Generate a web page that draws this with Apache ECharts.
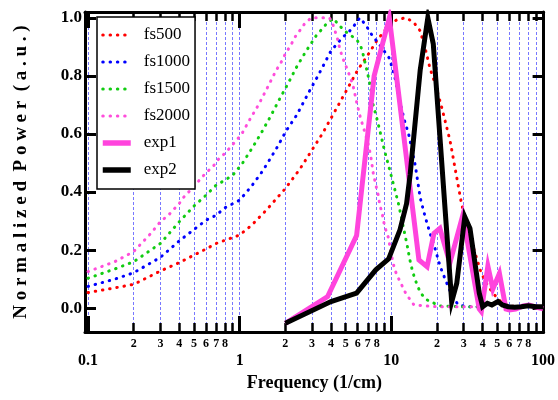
<!DOCTYPE html>
<html>
<head>
<meta charset="utf-8">
<script src="https://cdn.jsdelivr.net/npm/echarts@6/dist/echarts.min.js"></script>
<style>
  html, body { margin: 0; padding: 0; background: #fff; }
  #chart { width: 558px; height: 400px; }
</style>
</head>
<body>
<div id="chart"></div>
<script>
// ---- data: frequency (1/cm) and normalized power ----
const fs500Freq  = [0.1,0.15,0.2,0.3,0.4,0.5,0.6,0.7,0.8,1.0,1.2,1.5,2.0,2.5,3.0,3.5,4.0,5.0,6.0,7.0,8.0,9.0,10,11,12.5,14,15.5,17,18,19.5,21.6,24.4,26.7,29,32,35.4,39.2,43,46.7,54,60,70];
const fs500Power = [0.054,0.07,0.082,0.128,0.157,0.183,0.204,0.223,0.234,0.252,0.286,0.338,0.412,0.48,0.545,0.6,0.654,0.745,0.82,0.872,0.92,0.955,0.981,0.995,1.0,0.985,0.955,0.88,0.825,0.771,0.687,0.576,0.464,0.361,0.27,0.195,0.12,0.08,0.052,0.017,0.008,0.005];

const fs1000Freq  = [0.1,0.15,0.2,0.3,0.4,0.5,0.6,0.7,0.8,1.0,1.2,1.4,1.52,1.77,2.02,2.37,2.9,3.28,3.97,4.4,4.78,5.3,5.7,6.2,6.8,7.4,8.1,8.9,9.7,10.5,11.5,12.3,13.0,14.4,15.5,16.7,18,19.4,21,23,25,27.6,32,40];
const fs1000Power = [0.075,0.1,0.122,0.175,0.232,0.271,0.303,0.32,0.346,0.372,0.421,0.469,0.498,0.555,0.61,0.664,0.75,0.80,0.883,0.912,0.933,0.954,0.974,1.0,0.974,0.943,0.916,0.888,0.861,0.80,0.70,0.64,0.60,0.49,0.38,0.315,0.258,0.206,0.143,0.091,0.046,0.011,0.005,0.005];

const fs1500Freq  = [0.1,0.15,0.2,0.3,0.4,0.5,0.6,0.7,0.8,0.9,1.04,1.22,1.41,1.61,1.84,2.09,2.37,2.73,3.2,3.5,3.81,4.15,4.55,4.95,5.42,5.93,6.3,6.5,6.7,6.9,7.1,7.3,7.5,8.0,8.5,9.0,9.6,10.5,11.2,12.1,12.7,13.2,13.7,14.2,14.8,15.6,17,18,21,30,40];
const fs1500Power = [0.103,0.135,0.16,0.223,0.298,0.352,0.389,0.424,0.441,0.458,0.498,0.555,0.61,0.664,0.722,0.775,0.83,0.884,0.939,0.962,0.985,0.997,0.973,0.954,0.939,0.924,0.90,0.876,0.847,0.819,0.79,0.76,0.71,0.656,0.60,0.544,0.49,0.412,0.355,0.27,0.218,0.17,0.134,0.105,0.08,0.052,0.03,0.023,0.008,0.005,0.005];

const fs2000Freq  = [0.1,0.15,0.2,0.26,0.3,0.34,0.4,0.43,0.51,0.56,0.61,0.676,0.73,0.806,0.88,0.96,1.04,1.11,1.19,1.28,1.37,1.46,1.55,1.65,1.75,1.89,2.0,2.17,2.31,2.49,2.69,2.97,3.28,3.6,3.91,4.1,4.4,4.6,4.85,5.1,5.4,5.63,5.9,6.24,6.57,6.98,7.3,7.6,7.9,8.2,8.4,8.7,8.9,9.2,9.6,9.9,10.5,11,11.7,12.5,14.1,20,38];
const fs2000Power = [0.126,0.16,0.195,0.258,0.298,0.321,0.361,0.384,0.424,0.45,0.469,0.492,0.515,0.535,0.558,0.58,0.603,0.63,0.658,0.685,0.713,0.741,0.767,0.796,0.821,0.85,0.876,0.905,0.933,0.956,0.981,1.0,1.0,1.0,1.0,0.98,0.931,0.888,0.853,0.825,0.79,0.759,0.71,0.658,0.619,0.573,0.527,0.464,0.424,0.389,0.355,0.326,0.298,0.269,0.24,0.195,0.134,0.109,0.08,0.049,0.011,0.005,0.005];

const exp1Freq  = [2.0,3.8,5.9,7.7,9.7,15.2,17.2,19.1,20.9,24.3,29.6,38,39.2,43.3,46.7,51.6,57,60,66,74,81,90,100];
const exp1Power = [-0.052,0.04,0.25,0.80,1.0,0.166,0.143,0.258,0.275,0.155,0.32,-0.003,-0.012,0.145,0.066,0.12,-0.003,-0.006,-0.003,0.008,0.011,0.004,-0.002];

const exp2Freq  = [2.0,4.0,5.9,7.9,9.6,11.4,12.6,13.3,15.5,17.4,18.9,25,27,30.5,33,38,40,43,46,50.5,54,59,65,72,80,90,100];
const exp2Power = [-0.052,0.023,0.052,0.132,0.17,0.27,0.36,0.46,0.82,1.0,0.91,0.022,0.086,0.315,0.275,0.052,0.005,0.017,0.011,0.023,0.011,0.005,0.003,0.005,0.008,0.005,0.005];

// axis ticks
const majorTicks = [0.1, 1, 10, 100];
const minorDigits = [2, 3, 4, 5, 6, 7, 8, 9];
const labeledDigits = [2, 3, 4, 5, 6, 7, 8];
const powerTicks = [0.0, 0.2, 0.4, 0.6, 0.8, 1.0];

// ---- build ----
const lg = Math.log10;
const decades = [0.1, 1, 10];
const majorPos = majorTicks.map(lg);
const allPos = majorPos.concat(...decades.map(d => minorDigits.map(k => lg(k * d))));
const minorLabelPos = [].concat(...decades.map(d => labeledDigits.map(k => lg(k * d))));

const X_MIN = -1.02, X_MAX = 2.004;
const Y_MIN = -0.082, Y_MAX = 1.02;
const FONT = 'Liberation Serif';
const DOT = [0.5, 6.8];

function pairs(fr, pw) { return fr.map((f, i) => [lg(f), pw[i]]); }

function dotted(name, color, fr, pw) {
  return {
    name, type: 'line', data: pairs(fr, pw), symbol: 'none', showSymbol: false, color,
    lineStyle: { color, width: 3, type: DOT, cap: 'round' },
    silent: true
  };
}
function solid(name, color, fr, pw) {
  return {
    name, type: 'line', data: pairs(fr, pw), symbol: 'none', showSymbol: false, color,
    lineStyle: { color, width: 5, join: 'miter' },
    silent: true
  };
}

function majorLabel(v) {
  const f = Math.pow(10, v);
  return f < 1 ? f.toFixed(1) : String(Math.round(f));
}
function minorLabel(v) {
  const e = Math.floor(v + 1e-9);
  return String(Math.round(Math.pow(10, v - e)));
}

const black = '#000';
const xBase = (pos) => ({
  type: 'value', min: X_MIN, max: X_MAX, position: pos,
  axisLine: { show: false, onZero: false },
  splitLine: { show: false }
});

const dottedKey = (name) => ({ name, lineStyle: { width: 3, type: DOT, cap: 'round' } });
const solidKey = (name) => ({ name, lineStyle: { width: 5.5, type: 'solid', cap: 'butt' } });

const option = {
  animation: false,
  grid: { left: 85, top: 12, width: 463, height: 320, containLabel: false },
  legend: {
    orient: 'vertical', left: 97, top: 17,
    backgroundColor: '#fff', borderColor: black, borderWidth: 1.5,
    padding: [9, 5, 10, 3], itemWidth: 28, itemHeight: 14, itemGap: 9,
    selectedMode: false,
    itemStyle: { opacity: 0 },
    textStyle: { fontFamily: FONT, fontSize: 17, color: black, lineHeight: 18, padding: [0, 0, 0, 8] },
    data: [dottedKey('fs500'), dottedKey('fs1000'), dottedKey('fs1500'), dottedKey('fs2000'), solidKey('exp1'), solidKey('exp2')]
  },
  xAxis: [
    Object.assign(xBase('bottom'), {
      axisLine: { show: true, onZero: false, lineStyle: { color: black, width: 3 } },
      axisTick: { show: true, inside: true, length: 16, lineStyle: { color: black, width: 3 }, customValues: majorPos },
      axisLabel: { customValues: majorPos, formatter: majorLabel, margin: 21, fontFamily: FONT, fontSize: 16, fontWeight: 'bold', color: black },
      name: 'Frequency (1/cm)', nameLocation: 'middle', nameGap: 41,
      nameTextStyle: { fontFamily: FONT, fontSize: 18, fontWeight: 'bold', color: black }
    }),
    Object.assign(xBase('bottom'), {
      axisTick: { show: true, inside: true, length: 9, lineStyle: { color: black, width: 2.5 }, customValues: allPos },
      axisLabel: { customValues: minorLabelPos, formatter: minorLabel, margin: 6, fontFamily: FONT, fontSize: 12, fontWeight: 'bold', color: black },
      splitLine: { show: true, lineStyle: { color: '#7878ff', width: 1, type: [3, 2] } }
    }),
    Object.assign(xBase('top'), {
      axisLine: { show: true, onZero: false, lineStyle: { color: black, width: 3 } },
      axisTick: { show: true, inside: true, length: 16, lineStyle: { color: black, width: 3 }, customValues: majorPos },
      axisLabel: { show: false }
    }),
    Object.assign(xBase('top'), {
      axisTick: { show: true, inside: true, length: 9, lineStyle: { color: black, width: 2.5 }, customValues: allPos },
      axisLabel: { show: false }
    })
  ],
  yAxis: [
    {
      type: 'value', min: Y_MIN, max: Y_MAX, position: 'left',
      axisLine: { show: true, onZero: false, lineStyle: { color: black, width: 3 } },
      axisTick: { show: true, inside: true, length: 11, lineStyle: { color: black, width: 3 }, customValues: powerTicks },
      axisLabel: { customValues: powerTicks, formatter: v => v.toFixed(1), margin: 3, fontFamily: FONT, fontSize: 17, fontWeight: 'bold', color: black },
      splitLine: { show: false },
      name: 'N o r m a l i z e d  P o w e r  ( a . u . )', nameLocation: 'middle', nameGap: 54,
      nameTextStyle: { fontFamily: FONT, fontSize: 19, fontWeight: 'bold', color: black }
    },
    {
      type: 'value', min: Y_MIN, max: Y_MAX, position: 'right',
      axisLine: { show: true, onZero: false, lineStyle: { color: black, width: 3 } },
      axisTick: { show: true, inside: true, length: 11, lineStyle: { color: black, width: 3 }, customValues: powerTicks },
      axisLabel: { show: false },
      splitLine: { show: false }
    }
  ],
  series: [
    dotted('fs500', '#ff0000', fs500Freq, fs500Power),
    dotted('fs1000', '#0000ff', fs1000Freq, fs1000Power),
    dotted('fs1500', '#11cc11', fs1500Freq, fs1500Power),
    dotted('fs2000', '#ff4ddb', fs2000Freq, fs2000Power),
    solid('exp1', '#ff44dd', exp1Freq, exp1Power),
    solid('exp2', '#000000', exp2Freq, exp2Power)
  ]
};

const chart = echarts.init(document.getElementById('chart'), null, { renderer: 'canvas' });
chart.setOption(option);
</script>
</body>
</html>
